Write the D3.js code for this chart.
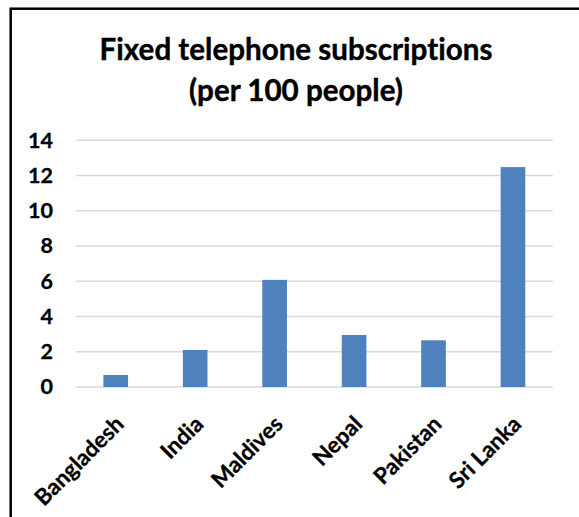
<!DOCTYPE html>
<html>
<head>
<meta charset="utf-8">
<script src="https://cdn.jsdelivr.net/npm/d3@7"></script>
<style>
  html, body { margin: 0; padding: 0; background: #fff; }
  svg { display: block; }
  text { font-family: Lato, "Open Sans", sans-serif; font-weight: 700; fill: #000; font-variant-ligatures: none; font-feature-settings: "liga" 0; }
</style>
</head>
<body>
<svg id="chart" width="579" height="517"></svg>
<script>
const categories = ["Bangladesh", "India", "Maldives", "Nepal", "Pakistan", "Sri Lanka"];
const values = [0.68, 2.1, 6.08, 2.95, 2.65, 12.48];
const yTicks = [0, 2, 4, 6, 8, 10, 12, 14];
const titleLines = ["Fixed telephone subscriptions", "(per 100 people)"];

const svg = d3.select("#chart");

// outer chart border (extends past the window edges like the reference)
svg.append("rect")
  .attr("x", 10.7).attr("y", 8.7)
  .attr("width", 600).attr("height", 540)
  .attr("fill", "#fff")
  .attr("stroke", "#000")
  .attr("stroke-width", 2.5);

const plot = { left: 76, right: 552.7, top: 140.3, bottom: 387 };

const x = d3.scaleBand()
  .domain(categories)
  .range([plot.left, plot.right])
  .paddingInner(0.69)
  .paddingOuter(0.345);

const y = d3.scaleLinear()
  .domain([0, 14])
  .range([plot.bottom, plot.top]);

// Title
const titleCx = 296;
const title = svg.append("g");
const t1 = title.append("text")
  .attr("x", titleCx).attr("y", 60)
  .attr("text-anchor", "middle")
  .style("font-size", "26px")
  .text(titleLines[0]);
const targetW = 393;
const w1 = t1.node().getComputedTextLength();
const fs = 26 * targetW / w1;
t1.style("font-size", fs + "px");
title.append("text")
  .attr("x", titleCx).attr("y", 101)
  .attr("text-anchor", "middle")
  .style("font-size", fs + "px")
  .text(titleLines[1]);
title.selectAll("text").attr("stroke", "#000").attr("stroke-width", 0.4);

// gridlines
svg.append("g")
  .selectAll("line")
  .data(yTicks)
  .join("line")
  .attr("x1", plot.left).attr("x2", plot.right)
  .attr("y1", d => y(d)).attr("y2", d => y(d))
  .attr("stroke", "#d9d9d9")
  .attr("stroke-width", 1.5);

// y axis labels
const yAxis = svg.append("g")
  .attr("transform", `translate(${plot.left},0)`)
  .call(d3.axisLeft(y).tickValues(yTicks).tickSize(0).tickPadding(23).tickFormat(d3.format("d")));
yAxis.select(".domain").remove();
yAxis.selectAll("text")
  .style("font-family", "Lato, 'Open Sans', sans-serif")
  .style("font-weight", 700)
  .style("font-size", "21.5px")
  .attr("fill", "#000")
  .attr("stroke", "#000").attr("stroke-width", 0.3);

// bars
svg.append("g")
  .selectAll("rect")
  .data(categories.map((c, i) => ({ c, v: values[i] })))
  .join("rect")
  .attr("x", d => x(d.c))
  .attr("width", x.bandwidth())
  .attr("y", d => y(d.v))
  .attr("height", d => y(0) - y(d.v))
  .attr("fill", "#4f81bd");

// x axis labels
const xAxis = svg.append("g")
  .attr("transform", `translate(0,${plot.bottom})`)
  .call(d3.axisBottom(x).tickSize(0));
xAxis.select(".domain").remove();
xAxis.selectAll("text")
  .attr("x", 0).attr("y", 0).attr("dy", "0.35em")
  .attr("text-anchor", "end")
  .attr("transform", "translate(4,33) rotate(-45)")
  .style("font-family", "Lato, 'Open Sans', sans-serif")
  .style("font-weight", 700)
  .style("font-size", "22.5px")
  .attr("fill", "#000")
  .attr("stroke", "#000").attr("stroke-width", 0.3);
</script>
</body>
</html>
